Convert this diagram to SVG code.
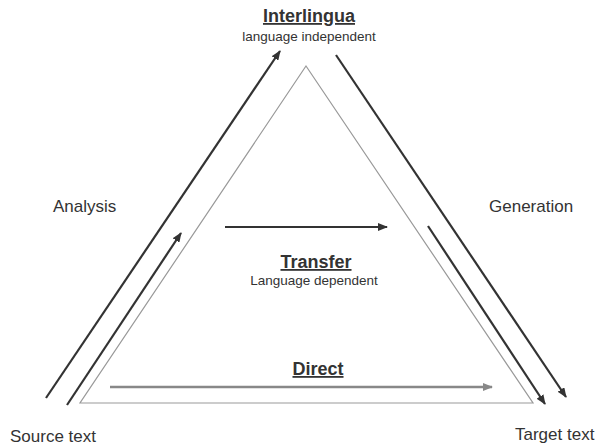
<svg xmlns="http://www.w3.org/2000/svg" width="600" height="445" viewBox="0 0 600 445">
<defs>
<style>
text{font-family:"Liberation Sans",Arial,sans-serif;fill:#333}
.big{font-size:17px}
.title{font-size:18px;font-weight:bold;text-decoration:underline}
.sub{font-size:13.5px}
.dark{stroke:#333;stroke-width:2.2;fill:none}
.grey{stroke:#888;stroke-width:2.5;fill:none}
</style>
<marker id="ah" markerWidth="10" markerHeight="8" refX="9" refY="4" orient="auto" markerUnits="userSpaceOnUse"><path d="M0,0 L10,4 L0,8 Z" fill="#333"/></marker>
<marker id="ahg" markerWidth="10" markerHeight="8" refX="9" refY="4" orient="auto" markerUnits="userSpaceOnUse"><path d="M0,0 L10,4 L0,8 Z" fill="#888"/></marker>
</defs>
<g id="triangle"><polygon points="306,66 533,403 80,403" fill="none" stroke="#999" stroke-width="1.2"/></g>
<g id="interlingua"><text class="title" x="309" y="22" text-anchor="middle">Interlingua</text><text class="sub" x="309" y="41" text-anchor="middle">language independent</text></g>
<g id="transfer"><text class="title" x="316" y="268" text-anchor="middle">Transfer</text><text class="sub" x="314" y="285" text-anchor="middle">Language dependent</text></g>
<g id="direct"><text class="title" x="318" y="375" text-anchor="middle">Direct</text></g>
<g id="analysis"><text class="big" x="53" y="212">Analysis</text></g>
<g id="generation"><text class="big" x="489" y="212">Generation</text></g>
<g id="source"><text class="big" x="10" y="442">Source text</text></g>
<g id="target"><text class="big" x="515" y="440">Target text</text></g>
<g id="connectors">
<line class="dark" x1="46" y1="398" x2="280" y2="51" marker-end="url(#ah)"/>
<line class="dark" x1="67" y1="405" x2="181" y2="233" marker-end="url(#ah)"/>
<line class="dark" x1="336" y1="55" x2="566" y2="397" marker-end="url(#ah)"/>
<line class="dark" x1="428" y1="226" x2="545" y2="404" marker-end="url(#ah)"/>
<line class="dark" x1="225" y1="227" x2="387" y2="227" stroke-width="2.5" marker-end="url(#ah)"/>
<line class="grey" x1="110" y1="387" x2="492" y2="387" marker-end="url(#ahg)"/>
</g>
</svg>
